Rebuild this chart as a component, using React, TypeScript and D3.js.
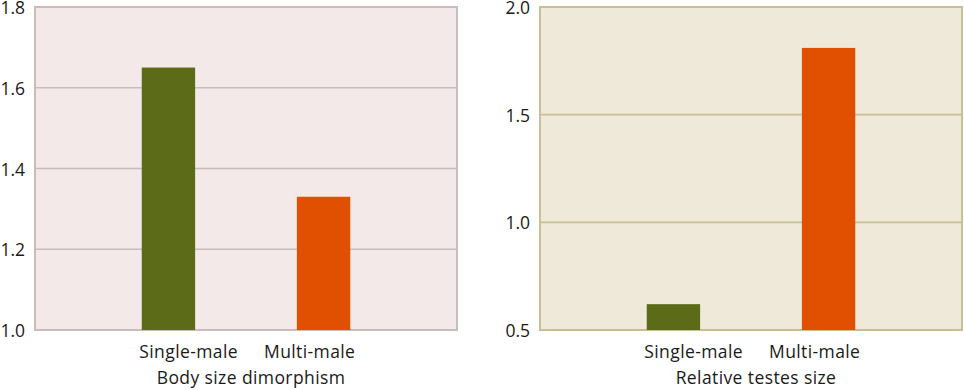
import React from 'react';
import * as d3 from 'd3';

const categories = ['Single-male', 'Multi-male'];
const dimorphismValues = [1.65, 1.33];
const testesValues = [0.62, 1.81];
const dimorphismTicks = [1.0, 1.2, 1.4, 1.6, 1.8];
const testesTicks = [0.5, 1.0, 1.5, 2.0];
const barColors = ['#5c6b18', '#e14f00'];

const top = 7;
const bottom = 330;
const font = '"Open Sans", sans-serif';

type PanelProps = {
  left: number;
  right: number;
  values: number[];
  ticks: number[];
  title: string;
  bg: string;
  line: string;
  tickFmt: (v: number) => string;
};

const Panel = ({ left, right, values, ticks, title, bg, line, tickFmt }: PanelProps) => {
  const x = d3.scaleBand()
    .domain(categories)
    .range([left, right])
    .paddingInner(0.656)
    .paddingOuter(0.688);

  const y = d3.scaleLinear()
    .domain([ticks[0], ticks[ticks.length - 1]])
    .range([bottom, top]);

  const mid = (left + right) / 2 + 5;

  return (
    <g>
      <rect x={left} y={top} width={right - left} height={bottom - top} fill={bg} />
      {ticks.slice(1, -1).map(t => (
        <line key={t} x1={left} x2={right} y1={y(t)} y2={y(t)} stroke={line} strokeWidth={1.6} />
      ))}
      <rect x={left} y={top} width={right - left} height={bottom - top} fill="none" stroke={line} strokeWidth={2} />
      {categories.map((c, i) => (
        <rect
          key={c}
          x={x(c)}
          y={y(values[i])}
          width={x.bandwidth()}
          height={bottom - y(values[i])}
          fill={barColors[i]}
        />
      ))}
      {ticks.map(t => (
        <text
          key={t}
          x={left - 10}
          y={y(t)}
          dy="0.4em"
          textAnchor="end"
          fontSize={17.5}
          fill="#1a1a1a"
        >
          {tickFmt(t)}
        </text>
      ))}
      {categories.map((c, i) => (
        <text
          key={c}
          x={i === 0 ? mid - 13 : mid + 13}
          y={358}
          textAnchor={i === 0 ? 'end' : 'start'}
          fontSize={17.5}
          letterSpacing={0.4}
          fill="#1a1a1a"
        >
          {c}
        </text>
      ))}
      <text x={mid} y={384} textAnchor="middle" fontSize={17.5} letterSpacing={0.4} fill="#1a1a1a">
        {title}
      </text>
    </g>
  );
};

const App = () => {
  const fmt = d3.format('.1f');
  return (
    <svg
      width={964}
      height={390}
      style={{ position: 'absolute', left: 0, top: 0, background: '#fff', fontFamily: font }}
    >
      <Panel
        left={35}
        right={457}
        values={dimorphismValues}
        ticks={dimorphismTicks}
        title="Body size dimorphism"
        bg="#f2e9e8"
        line="#c9bdbb"
        tickFmt={fmt}
      />
      <Panel
        left={540}
        right={962}
        values={testesValues}
        ticks={testesTicks}
        title="Relative testes size"
        bg="#efe9da"
        line="#c9bf95"
        tickFmt={fmt}
      />
    </svg>
  );
};

export default App;
